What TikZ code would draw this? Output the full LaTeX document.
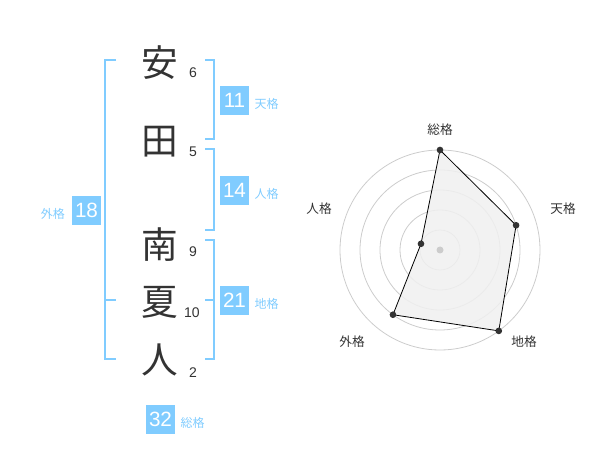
\documentclass[tikz,border=0pt]{standalone}
\usepackage{fontspec}
\setmainfont{Liberation Sans}
\newfontfamily\cjk{Noto Sans CJK JP}
\usetikzlibrary{positioning}
\definecolor{kakublue}{HTML}{80CCFF}
\definecolor{inkgray}{HTML}{333333}
\definecolor{ringgray}{HTML}{CCCCCC}
\definecolor{areagray}{HTML}{F0F0F0}
\tikzset{
  kanji/.style={font=\cjk\fontsize{27.5}{27.5}\selectfont,text=inkgray,inner sep=0pt},
  strokes/.style={font=\fontsize{10.5}{10.5}\selectfont,text=inkgray,inner sep=0pt},
  kakubox/.style={fill=kakublue,text=white,minimum size=21.75pt,inner sep=0pt,font=\fontsize{15.5}{15.5}\selectfont},
  kakulabel/.style={font=\cjk\fontsize{9}{9}\selectfont,text=kakublue,inner sep=0pt},
  axislabel/.style={font=\cjk\fontsize{9.5}{9.5}\selectfont,text=inkgray,inner sep=0pt},
  bracket/.style={draw=kakublue,line width=1.5pt},
  ring/.style={draw=ringgray,line width=0.6pt},
  hit/.style={circle,fill=inkgray,inner sep=0pt,minimum size=5pt}
}
\begin{document}
\begin{tikzpicture}[x=0.75pt,y=-0.75pt]
    \useasboundingbox (0,0) rectangle (600,470);

    % Define the columns of the name block
    \def\xkanji{160}  % column of the characters
    \def\xnum{193}    % column of the stroke counts
    \def\xleft{105}   % left bracket
    \def\xright{214}  % right brackets

    % -- Characters of the name with their stroke counts --
    \node[kanji] (c1) at (\xkanji,63) {安};
    \node[kanji] (c2) at (\xkanji,142) {田};
    \node[kanji] (c3) at (\xkanji,245) {南};
    \node[kanji] (c4) at (\xkanji,302) {夏};
    \node[kanji] (c5) at (\xkanji,360) {人};
    \node[strokes] (n1) at (\xnum,73) {6};
    \node[strokes] (n2) at (\xnum,152) {5};
    \node[strokes] (n3) at (\xnum,252) {9};
    \node[strokes] (n4) at (\xnum-1,313) {10};
    \node[strokes] (n5) at (\xnum,373) {2};

    % -- Brackets grouping the characters --
    \draw[bracket] (\xleft+11,60) -- (\xleft,60) -- (\xleft,359) -- (\xleft+11,359);
    \draw[bracket] (\xleft,300) -- (\xleft+11,300);
    \draw[bracket] (\xright-9,60) -- (\xright,60) -- (\xright,139) -- (\xright-9,139);
    \draw[bracket] (\xright-9,149) -- (\xright,149) -- (\xright,230) -- (\xright-9,230);
    \draw[bracket] (\xright-9,240) -- (\xright,240) -- (\xright,359) -- (\xright-9,359);
    \draw[bracket] (\xright-9,300) -- (\xright,300);

    % -- Score boxes and their labels --
    \node[kakubox] (ten) at (234.5,100.5) {11};
    \node[kakulabel,right=3.75pt of ten,yshift=-2.5pt] (tenl) {天格};
    \node[kakubox] (jin) at (234.5,190.5) {14};
    \node[kakulabel,right=3.75pt of jin,yshift=-2.5pt] (jinl) {人格};
    \node[kakubox] (chi) at (234.5,300.5) {21};
    \node[kakulabel,right=3.75pt of chi,yshift=-2.5pt] (chil) {地格};
    \node[kakubox] (gai) at (86.5,210.5) {18};
    \node[kakulabel,left=5pt of gai,yshift=-2.5pt] (gail) {外格};
    \node[kakubox] (sou) at (160.5,419.5) {32};
    \node[kakulabel,right=3.75pt of sou,yshift=-2.5pt] (soul) {総格};

    % -- Radar chart --
    \coordinate (ctr) at (440,250);
    \foreach \r in {20,40,60,80,100}
      \draw[ring] (ctr) circle[radius=\r];

    % values along the five axes
    \path (ctr) ++(-90:100) coordinate (p1);
    \path (ctr) ++(-18:80) coordinate (p2);
    \path (ctr) ++(54:100) coordinate (p3);
    \path (ctr) ++(126:80) coordinate (p4);
    \path (ctr) ++(-162:20) coordinate (p5);
    \draw[fill=areagray,fill opacity=0.85,draw=black,line width=0.6pt]
      (p1) -- (p2) -- (p3) -- (p4) -- (p5) -- cycle;
    \fill[ringgray] (ctr) circle[radius=3.5];
    \foreach \p in {p1,p2,p3,p4,p5}
      \node[hit] at (\p) {};

    % axis labels
    \node[axislabel] (a1) at (440,130) {総格};
    \node[axislabel] (a2) at (563,209) {天格};
    \node[axislabel] (a3) at (524,342) {地格};
    \node[axislabel] (a4) at (352,342) {外格};
    \node[axislabel] (a5) at (319,209) {人格};

\end{tikzpicture}
\end{document}
